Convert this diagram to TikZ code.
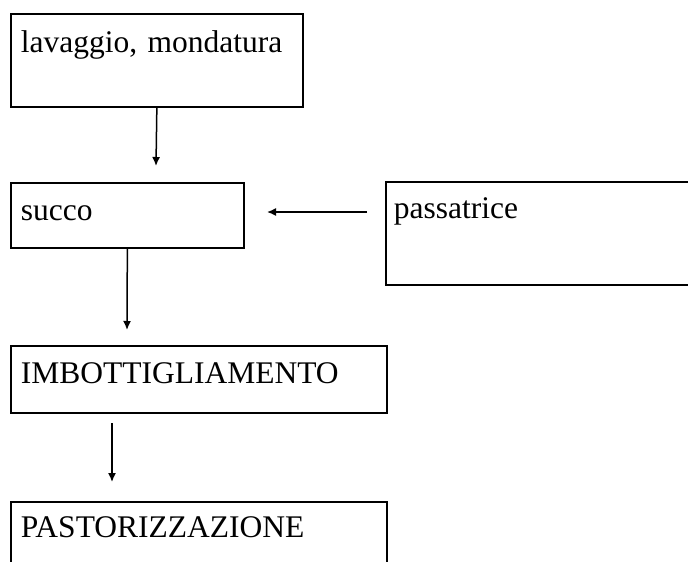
\documentclass[tikz,border=0pt]{standalone}
\usepackage{fontspec}
\setmainfont{Liberation Serif}
\usetikzlibrary{arrows.meta, positioning}

\begin{document}
\begin{tikzpicture}[x=1pt, y=-1pt,
    passo/.style={draw, line width=1.7pt, anchor=north west, inner xsep=10pt, inner ysep=0pt,
      align=left, font=\fontsize{31.5}{38}\selectfont},
    freccia/.style={-{Latex[length=9pt, width=8pt]}, line width=1.5pt}]
        \useasboundingbox (0,0) rectangle (688,562);
        \clip (0,0) rectangle (688,562);

        % Fasi del processo
        \node[passo, text width=272pt, text height=39pt, text depth=54pt] (lav) at (10,13) {lavaggio, mondatura};
        \node[passo, text width=213pt, text height=38pt, text depth=27pt] (succo) at (10,182) {succo};
        \node[passo, inner xsep=8pt, text width=294pt, text height=37pt, text depth=66pt] (pass) at (385,181) {passatrice};
        \node[passo, text width=356pt, text height=38pt, text depth=29pt] (imb) at (10,345) {IMBOTTIGLIAMENTO};
        \node[passo, text width=356pt, text height=36pt, text depth=60pt] (past) at (10,501) {PASTORIZZAZIONE};

        % Frecce
        \coordinate (f1) at (156,166);
        \draw[freccia] (lav.south) -- (f1);

        \coordinate (f2a) at (367,212);
        \coordinate (f2b) at (267,212);
        \draw[freccia] (f2a) -- (f2b);

        \coordinate (f3) at (127,330);
        \draw[freccia] (succo.south) -- (f3);

        \coordinate (f4a) at (112,423);
        \coordinate (f4b) at (112,482);
        \draw[freccia] (f4a) -- (f4b);
    \end{tikzpicture}
\end{document}
